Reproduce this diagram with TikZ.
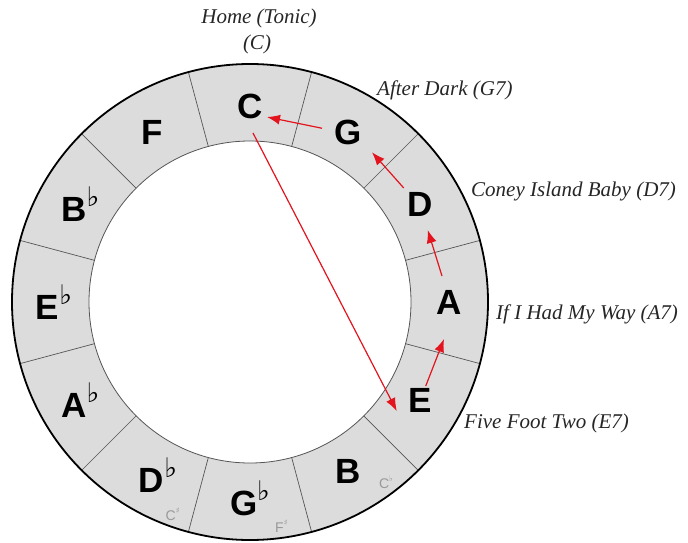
\documentclass[tikz,border=0pt]{standalone}
\usepackage{fontspec}
\setmainfont{Liberation Serif}
\newfontfamily\notefont{Liberation Sans}
\newfontfamily\symfont{DejaVu Sans}
\usetikzlibrary{arrows.meta,calc}
\definecolor{ringgray}{HTML}{DCDCDC}
\definecolor{arrred}{HTML}{E3141E}
\definecolor{sepgray}{HTML}{555555}
\newcommand\fl{\raisebox{15pt}{\fontsize{27}{27}\symfont\mdseries ♭}}
\newcommand\smsharp{\raisebox{0.5em}{\fontsize{8}{8}\symfont ♯}}
\newcommand\smflat{\raisebox{0.5em}{\fontsize{8}{8}\symfont ♭}}
\tikzset{
  note/.style={font=\notefont\bfseries\fontsize{35}{35}\selectfont, inner sep=0pt},
  songlabel/.style={font=\itshape\fontsize{21}{21}\selectfont, text=black!85, inner sep=0pt},
  enh/.style={font=\notefont\fontsize{14}{14}\selectfont, text=black!40, inner sep=0pt},
  arr/.style={draw=arrred, line width=1.2pt, -{Latex[length=13pt,width=10pt]}, arrred}
}
\begin{document}
\begin{tikzpicture}[x=1pt,y=1pt]
\useasboundingbox (-250,-240) rectangle (438,302);
% ring
\fill[ringgray, even odd rule] (0,0) circle (238) (0,0) circle (161);
\foreach \a in {15,45,...,345}
  \draw[sepgray, line width=0.7pt] (\a:161) -- (\a:238);
\draw[sepgray, line width=0.8pt] (0,0) circle (161);
\draw[black, line width=1.8pt] (0,0) circle (238);
% notes
\node[note] (C)  at (90:196)  {C};
\node[note] (G)  at (60:196)  {G};
\node[note] (D)  at (30:196)  {D};
\node[note] (A)  at (0:199)   {A};
\node[note] (E)  at (-30:196) {E};
\node[note] (B)  at (-60:196) {B};
\node[note] (Gb) at (-90:196) {G\fl};
\node[note] (Db) at (-118:196) {D\fl};
\node[note] (Ab) at (-150:196) {A\fl};
\node[note] (Eb) at (180:196) {E\fl};
\node[note] (Bb) at (150:196) {B\fl};
\node[note] (F)  at (120:196) {F};
% enharmonic
\node[enh] (Cs) at (-110:226) {C\smsharp};
\node[enh] (Fs) at (-82:226) {F\smsharp};
\node[enh] (Cb) at (-53:226) {C\smflat};
% song labels
\node[songlabel] (home) at (9,284) {Home (Tonic)};
\node[songlabel] (homec) at (7,258) {(C)};
\node[songlabel, anchor=west] (after) at (127,212) {After Dark (G7)};
\node[songlabel, anchor=west] (coney) at (221,111) {Coney Island Baby (D7)};
\node[songlabel, anchor=west] (ifi) at (246,-12) {If I Had My Way (A7)};
\node[songlabel, anchor=west] (five) at (214,-121) {Five Foot Two (E7)};
% arrows
\draw[arr] ([shift={(-26,4)}]G.center) -- ([shift={(17,-11)}]C.center);
\draw[arr] ([shift={(-16,16)}]D.center) -- ([shift={(24,-20)}]G.center);
\draw[arr] ([shift={(-7,26)}]A.center) -- ([shift={(8,-26)}]D.center);
\draw[arr] ([shift={(6,14)}]E.center) -- ([shift={(-5,-37)}]A.center);
\draw[arr] ([shift={(3,-27)}]C.center) -- ([shift={(-23,-11)}]E.center);
\end{tikzpicture}
\end{document}
